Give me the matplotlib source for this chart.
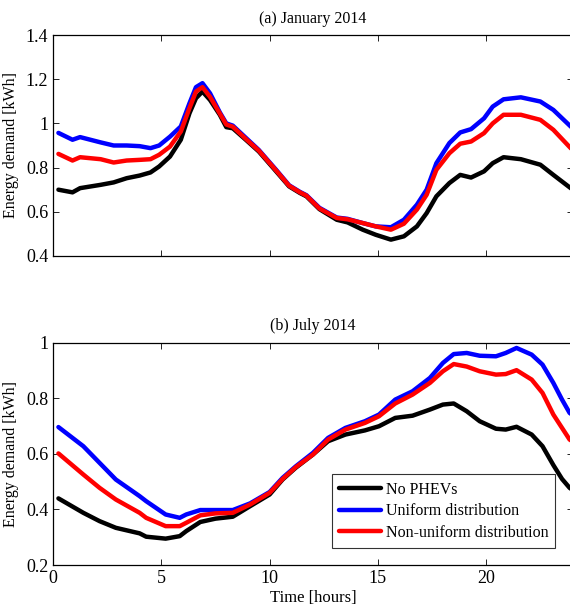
import numpy as np
import matplotlib.pyplot as plt

plt.rcParams["font.family"] = ["Liberation Serif", "DejaVu Serif"]

# (a) January 2014
t_jan = [0.25, 0.9, 1.25, 2.2, 2.8, 3.4, 4.0, 4.5, 4.9, 5.4, 5.9, 6.3, 6.6, 6.9,
         7.25, 7.7, 8.0, 8.3, 8.9, 9.5, 10.3, 10.9, 11.4, 11.7, 12.3, 13.1, 13.6,
         14.3, 14.9, 15.6, 16.2, 16.8, 17.25, 17.7, 18.3, 18.8, 19.3, 19.9, 20.3,
         20.8, 21.6, 22.5, 23.1, 23.9, 24.0]
jan_none = [0.70, 0.688, 0.707, 0.722, 0.733, 0.752, 0.764, 0.778, 0.805, 0.85,
            0.926, 1.046, 1.114, 1.144, 1.106, 1.039, 0.983, 0.978, 0.926, 0.873,
            0.783, 0.715, 0.685, 0.670, 0.612, 0.564, 0.552, 0.519, 0.496, 0.474,
            0.489, 0.534, 0.594, 0.67, 0.73, 0.767, 0.755, 0.783, 0.82, 0.847,
            0.838, 0.813, 0.767, 0.707, 0.70]
jan_uniform = [0.957, 0.926, 0.938, 0.914, 0.90, 0.90, 0.897, 0.888, 0.90, 0.94,
               0.986, 1.091, 1.164, 1.182, 1.136, 1.05, 1.0, 0.99, 0.935, 0.88,
               0.79, 0.72, 0.69, 0.675, 0.618, 0.574, 0.568, 0.549, 0.534, 0.530,
               0.564, 0.632, 0.70, 0.82, 0.911, 0.959, 0.974, 1.023, 1.076, 1.109,
               1.118, 1.099, 1.061, 0.986, 0.975]
jan_nonuniform = [0.862, 0.832, 0.847, 0.838, 0.823, 0.832, 0.835, 0.838, 0.858,
                  0.895, 0.963, 1.069, 1.144, 1.164, 1.12, 1.045, 0.995, 0.985,
                  0.93, 0.877, 0.787, 0.718, 0.688, 0.673, 0.615, 0.572, 0.566,
                  0.549, 0.534, 0.519, 0.546, 0.61, 0.677, 0.79, 0.865, 0.908,
                  0.918, 0.956, 1.0, 1.039, 1.039, 1.016, 0.971, 0.888, 0.878]

# (b) July 2014
t_jul = [0.25, 1.4, 2.15, 2.9, 4.0, 4.3, 5.2, 5.85, 6.15, 6.8, 7.5, 8.3, 9.1, 10.0,
         10.6, 11.2, 12.0, 12.7, 13.5, 14.4, 15.05, 15.8, 16.6, 17.4, 18.0, 18.5,
         19.1, 19.7, 20.45, 20.9, 21.4, 22.1, 22.6, 23.1, 23.5, 23.85, 24.0]
jul_none = [0.44, 0.388, 0.358, 0.334, 0.314, 0.302, 0.295, 0.304, 0.322, 0.355,
            0.367, 0.374, 0.412, 0.454, 0.508, 0.55, 0.598, 0.646, 0.67, 0.685,
            0.70, 0.73, 0.738, 0.76, 0.778, 0.782, 0.754, 0.718, 0.691, 0.688,
            0.698, 0.67, 0.628, 0.56, 0.51, 0.478, 0.47]
jul_uniform = [0.697, 0.628, 0.568, 0.508, 0.448, 0.43, 0.382, 0.370, 0.382, 0.398,
               0.398, 0.398, 0.422, 0.463, 0.514, 0.555, 0.604, 0.658, 0.694, 0.718,
               0.742, 0.796, 0.826, 0.874, 0.928, 0.96, 0.964, 0.954, 0.952, 0.964,
               0.982, 0.958, 0.922, 0.856, 0.796, 0.748, 0.74]
jul_nonuniform = [0.602, 0.526, 0.478, 0.436, 0.388, 0.37, 0.34, 0.34, 0.352, 0.379,
                  0.386, 0.388, 0.418, 0.46, 0.51, 0.552, 0.598, 0.652, 0.688,
                  0.712, 0.736, 0.782, 0.814, 0.856, 0.898, 0.924, 0.915, 0.898,
                  0.886, 0.888, 0.902, 0.868, 0.82, 0.742, 0.694, 0.652, 0.645]

labels = ["No PHEVs", "Uniform distribution", "Non-uniform distribution"]
colors = ["black", "blue", "red"]

fig = plt.figure(figsize=(5.7, 6.13), dpi=100)
ax1 = fig.add_axes([0.093, 0.5824, 0.912, 0.3605])
ax2 = fig.add_axes([0.093, 0.0783, 0.912, 0.3622])


def style(ax, ylim, yticks, title):
    ax.set_xlim(0, 24)
    ax.set_ylim(*ylim)
    ax.set_xticks([0, 5, 10, 15, 20])
    ax.set_yticks(yticks)
    ax.tick_params(direction="in", top=True, right=True, labelsize=13,
                   length=4, width=0.6)
    for s in ax.spines.values():
        s.set_linewidth(0.9)
    ax.set_ylabel("Energy demand [kWh]", fontsize=11.5)
    ax.yaxis.set_label_coords(-0.066, 0.5)
    ax.set_title(title, fontsize=11.5, pad=9)


series_jan = [jan_none, jan_uniform, jan_nonuniform]
series_jul = [jul_none, jul_uniform, jul_nonuniform]
for idx in [0, 1, 2]:
    ax1.plot(t_jan, series_jan[idx], color=colors[idx], lw=3.2,
             solid_capstyle="round", solid_joinstyle="round")
    ax2.plot(t_jul, series_jul[idx], color=colors[idx], lw=3.2, label=labels[idx],
             solid_capstyle="round", solid_joinstyle="round")

style(ax1, (0.4, 1.4), [0.4, 0.6, 0.8, 1.0, 1.2, 1.4], "(a) January 2014")
ax1.set_yticklabels(["0.4", "0.6", "0.8", "1", "1.2", "1.4"])
ax1.set_xticklabels([])

style(ax2, (0.2, 1.0), [0.2, 0.4, 0.6, 0.8, 1.0], "(b) July 2014")
ax2.set_yticklabels(["0.2", "0.4", "0.6", "0.8", "1"])
ax2.set_xlabel("Time [hours]", fontsize=12, labelpad=2)

leg = ax2.legend(loc="lower left", bbox_to_anchor=(0.537, 0.077), fontsize=11.5,
                 frameon=True, fancybox=False, handlelength=2.6,
                 borderaxespad=0, borderpad=0.45, labelspacing=0.35,
                 handletextpad=0.3)
leg.get_frame().set_edgecolor("black")
leg.get_frame().set_linewidth(0.8)

fig.savefig("out.png", dpi=100)
